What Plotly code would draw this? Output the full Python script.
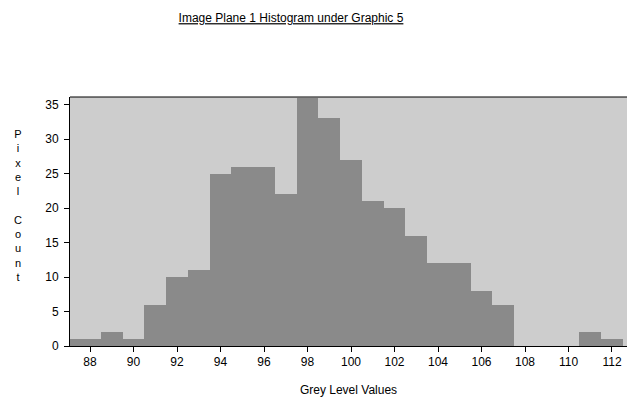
import plotly.graph_objects as go

grey_levels = list(range(87, 113))
pixel_counts = [1, 1, 2, 1, 6, 10, 11, 25, 26, 26, 22, 36, 33, 27, 21, 20, 16, 12, 12, 8, 6, 0, 0, 0, 2, 1]
x_ticks = list(range(88, 113, 2))
y_ticks = list(range(0, 36, 5))

title_text = "Image Plane 1 Histogram under Graphic 5"
x_title = "Grey Level Values"
y_title = "Pixel Count"

fig = go.Figure()
fig.add_trace(go.Bar(
    x=grey_levels, y=pixel_counts, width=1.0,
    marker=dict(color="#8a8a8a", line=dict(width=0)),
    hoverinfo="x+y",
))

font_family = "Liberation Sans, Arial, sans-serif"

fig.update_layout(
    width=628, height=397, autosize=False,
    margin=dict(l=70, r=1, t=97, b=51),
    paper_bgcolor="white", plot_bgcolor="#cdcdcd",
    bargap=0, showlegend=False,
    font=dict(family=font_family, size=12, color="black"),
    title=dict(text="<u>" + title_text + "</u>", x=291 / 628, xanchor="center",
               y=1 - 18 / 397, yanchor="middle",
               font=dict(size=12, family=font_family, color="black")),
    xaxis=dict(range=[87.08, 112.69], tickvals=x_ticks, ticks="outside", ticklen=5,
               tickcolor="black", showgrid=False, zeroline=False, showline=True,
               linecolor="black", linewidth=1, mirror=False,
               title=dict(text=x_title, standoff=17, font=dict(size=12))),
    yaxis=dict(range=[0, 36.1], tickvals=y_ticks, ticks="outside", ticklen=5,
               tickcolor="black", showgrid=False, zeroline=False, showline=True,
               linecolor="black", linewidth=1, ticklabelstandoff=3),
)

# vertical stacked y-axis title
stacked = "<br>".join(list(y_title.replace(" ", "\u00a0")))
fig.add_annotation(text=stacked, xref="paper", yref="paper", x=-52 / 557, y=0.565,
                   xanchor="center", yanchor="middle", showarrow=False,
                   font=dict(size=11, family=font_family, color="black"))
# top border of plot area
fig.add_shape(type="line", xref="paper", yref="paper", x0=0, x1=1, y0=1, y1=1,
              line=dict(color="black", width=1))

fig.write_html("out.html")
